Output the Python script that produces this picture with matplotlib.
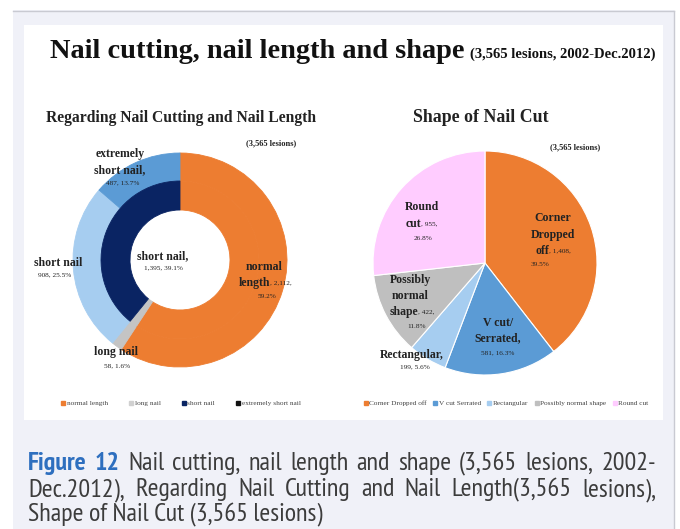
import matplotlib
matplotlib.use("Agg")
import matplotlib.pyplot as plt
from matplotlib.patches import Rectangle
from matplotlib.lines import Line2D
from matplotlib import font_manager as fm

# data
len_outer_labels = ["normal length", "long nail", "short nail", "extremely short nail"]
len_outer_values = [2112, 58, 908, 487]
len_inner_labels = ["normal length", "long nail", "short nail"]
len_inner_values = [2112, 58, 1395]
shape_labels = ["Corner Dropped off", "V cut Serrated", "Rectangular",
                "Possibly normal shape", "Round cut"]
shape_values = [1408, 581, 199, 422, 955]

ORANGE = "#ED7D31"
MBLUE = "#5B9BD5"
LBLUE = "#A6CDF0"
NAVY = "#0A2463"
GRAY = "#C4C4C4"
PINK = "#FFCCFF"
outer_colors = [ORANGE, GRAY, LBLUE, MBLUE]
inner_colors = [ORANGE, GRAY, NAVY]
shape_colors = [ORANGE, MBLUE, LBLUE, "#BFBFBF", PINK]
legend_len_colors = [ORANGE, "#D0D0D0", NAVY, "#111111"]

W, H = 680, 529
SERIF = "Liberation Serif"
installed = set(f.name for f in fm.fontManager.ttflist)
CAP_FONT = [f for f in ["PT Sans Narrow", "Roboto Condensed", "Archivo Narrow", "Liberation Sans"]
            if f in installed][:1] + ["DejaVu Sans"]
TXT = "#222222"

fig = plt.figure(figsize=(W / 100, H / 100), dpi=100)
fig.patch.set_facecolor("white")
renderer = fig.canvas.get_renderer()


def fx(x):
    return x / W


def fy(y):
    return 1 - y / H


# background card
fig.patches.append(Rectangle((fx(13), 0), fx(674) - fx(13), fy(10), transform=fig.transFigure,
                             facecolor="#F0F1F8", edgecolor="none", zorder=-2))
fig.add_artist(Line2D([fx(13), fx(674)], [fy(10.5), fy(10.5)], color="#C9CAD2", lw=1, zorder=-1))
fig.add_artist(Line2D([fx(674), fx(674)], [fy(10.5), 0], color="#C9CAD2", lw=1, zorder=-1))
fig.patches.append(Rectangle((fx(24), fy(420)), fx(663) - fx(24), fy(25) - fy(420),
                             transform=fig.transFigure, facecolor="white", edgecolor="none", zorder=-1))


def ftext(x, y, s, **kw):
    kw.setdefault("family", SERIF)
    kw.setdefault("color", TXT)
    kw.setdefault("ha", "center")
    kw.setdefault("va", "center")
    return fig.text(fx(x), fy(y), s, **kw)


def width_of(t):
    return t.get_window_extent(renderer).width


def fit(t, target):
    t.set_fontsize(t.get_fontsize() * target / width_of(t))


# main title
t1 = ftext(50, 58, "Nail cutting, nail length and shape", fontsize=17, weight="bold",
           ha="left", va="baseline", color="#111111")
fit(t1, 417)
t2 = ftext(470, 58, "(3,565 lesions, 2002-Dec.2012)", fontsize=8, weight="bold",
           ha="left", va="baseline", color="#111111")
fit(t2, 185)

# ---- donut chart
cx, cy, R = 180, 260, 107
half = 160
ax1 = fig.add_axes([fx(cx - half), fy(cy + half), 2 * half / W, 2 * half / H])
w_out, _ = ax1.pie(len_outer_values, colors=outer_colors, radius=1, startangle=90,
                   counterclock=False, wedgeprops=dict(width=28 / R, linewidth=0.6))
w_in, _ = ax1.pie(len_inner_values, colors=inner_colors, radius=79 / R, startangle=90,
                  counterclock=False, wedgeprops=dict(width=29 / R, linewidth=0.6))
for w in list(w_out) + list(w_in):
    w.set_edgecolor(w.get_facecolor())
ax1.set_xlim(-half / R, half / R)
ax1.set_ylim(-half / R, half / R)
ax1.set_aspect("equal")
ax1.axis("off")

tt = ftext(181, 118, "Regarding Nail Cutting and Nail Length", fontsize=10.5, weight="bold")
fit(tt, 272)
ftext(271, 143, "(3,565 lesions)", fontsize=6, weight="bold")

BOLD = 8.5
SMALL = 5.2
ftext(120, 154, "extremely", fontsize=BOLD, weight="bold")
ftext(120, 170, "short nail,", fontsize=BOLD, weight="bold")
ftext(123, 183, "487, 13.7%", fontsize=SMALL)
ftext(58, 263, "short nail", fontsize=BOLD, weight="bold")
ftext(55, 275, "908, 25.5%", fontsize=SMALL)
ftext(163, 256, "short nail,", fontsize=BOLD, weight="bold")
ftext(163, 268, "1,395, 39.1%", fontsize=SMALL)
ftext(264, 267, "normal", fontsize=BOLD, weight="bold")
ftext(270, 283, "length", fontsize=BOLD, weight="bold", ha="right")
ftext(270, 283, ", 2,112,", fontsize=SMALL, ha="left")
ftext(267, 296, "59.2%", fontsize=SMALL)
ftext(116, 352, "long nail", fontsize=BOLD, weight="bold")
ftext(117, 366, "58, 1.6%", fontsize=SMALL)

# ---- pie chart
px, py, PR = 485, 263, 112
ax2 = fig.add_axes([fx(px - half), fy(py + half), 2 * half / W, 2 * half / H])
ax2.pie(shape_values, colors=shape_colors, radius=1, startangle=90, counterclock=False,
        wedgeprops=dict(edgecolor="white", linewidth=0.8))
ax2.set_xlim(-half / PR, half / PR)
ax2.set_ylim(-half / PR, half / PR)
ax2.set_aspect("equal")
ax2.axis("off")

tt = ftext(481, 117, "Shape of Nail Cut", fontsize=10.5, weight="bold")
fit(tt, 135)
ftext(575, 147, "(3,565 lesions)", fontsize=6, weight="bold")

ftext(422, 207, "Round", fontsize=BOLD, weight="bold")
ftext(421, 224, "cut", fontsize=BOLD, weight="bold", ha="right")
ftext(421, 224, ", 955,", fontsize=SMALL, ha="left")
ftext(423, 238, "26.8%", fontsize=SMALL)
ftext(553, 218, "Corner", fontsize=BOLD, weight="bold")
ftext(553, 235, "Dropped", fontsize=BOLD, weight="bold")
ftext(549, 251, "off", fontsize=BOLD, weight="bold", ha="right")
ftext(549, 251, ", 1,408,", fontsize=SMALL, ha="left")
ftext(540, 264, "39.5%", fontsize=SMALL)
ftext(410, 280, "Possibly", fontsize=BOLD, weight="bold")
ftext(410, 296, "normal", fontsize=BOLD, weight="bold")
ftext(418, 312, "shape", fontsize=BOLD, weight="bold", ha="right")
ftext(418, 312, ", 422,", fontsize=SMALL, ha="left")
ftext(417, 326, "11.8%", fontsize=SMALL)
ftext(498, 323, "V cut/", fontsize=BOLD, weight="bold")
ftext(498, 338, "Serrated,", fontsize=BOLD, weight="bold")
ftext(498, 353, "581, 16.3%", fontsize=SMALL)
ftext(412, 355, "Rectangular,", fontsize=BOLD, weight="bold")
ftext(415, 367, "199, 5.6%", fontsize=SMALL)


# ---- legends
def legend(labels, colors, xc, yc, ncol, spacing):
    handles = [Line2D([], [], marker="s", ls="none", markersize=3, color=c) for c in colors]
    fig.legend(handles, labels, loc="center", bbox_to_anchor=(fx(xc), fy(yc)), ncol=ncol,
               frameon=False, handlelength=0.6, handletextpad=0.2, columnspacing=spacing,
               prop=dict(family=SERIF, size=5.2), labelcolor="#444444")


legend(len_outer_labels, legend_len_colors, 181, 403, 4, 2.9)
legend(shape_labels, shape_colors, 506, 403, 5, 0.85)

# ---- caption
CAP_SIZE = 14
BLUE = "#2E6FBF"
GREY = "#3C3C3C"


def line_words(words, x0, x1, y):
    ts = []
    for w, bold in words:
        ts.append(fig.text(0, fy(y), w, fontsize=CAP_SIZE, family=CAP_FONT, va="baseline",
                           ha="left", weight="bold" if bold else "normal",
                           color=BLUE if bold else GREY))
    widths = [width_of(t) for t in ts]
    gap = (x1 - x0 - sum(widths)) / (len(ts) - 1)
    x = x0
    for t, wd in zip(ts, widths):
        t.set_x(fx(x))
        x += wd + gap


# fit caption size to the last (natural) line
probe = fig.text(0, 0, "Shape of Nail Cut (3,565 lesions)", fontsize=CAP_SIZE, family=CAP_FONT)
CAP_SIZE = CAP_SIZE * 297 / width_of(probe)
probe.remove()

l1 = [("Figure", True), ("12", True)] + [(w, False) for w in
      "Nail cutting, nail length and shape (3,565 lesions, 2002-".split()]
l2 = [(w, False) for w in "Dec.2012), Regarding Nail Cutting and Nail Length(3,565 lesions),".split()]
line_words(l1, 28, 656, 470)
line_words(l2, 28, 656, 496)
fig.text(fx(28), fy(521), "Shape of Nail Cut (3,565 lesions)", fontsize=CAP_SIZE, family=CAP_FONT,
         va="baseline", ha="left", color=GREY)

fig.savefig("out.png", dpi=100)
